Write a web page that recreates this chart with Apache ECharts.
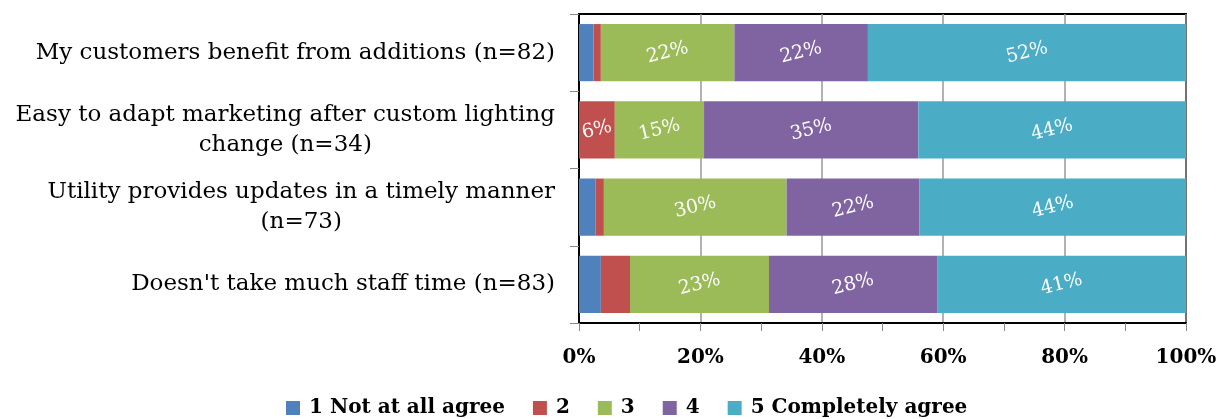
<!DOCTYPE html>
<html>
<head>
<meta charset="utf-8">
<script src="https://cdn.jsdelivr.net/npm/echarts@6/dist/echarts.min.js"></script>
<style>
  html, body { margin: 0; padding: 0; background: #fff; }
  #chart { width: 1222px; height: 419px; }
</style>
</head>
<body>
<div id="chart"></div>
<script>
// Survey statements, listed top to bottom
const categories = [
  'My customers benefit from additions (n=82)',
  'Easy to adapt marketing after custom lighting\nchange (n=34)',
  'Utility provides updates in a timely manner\n(n=73)',
  "Doesn't take much staff time (n=83)"
];

// Share of respondents (%) for each agreement level
const level1 = [2.4, 0.0, 2.7, 3.6];
const level2 = [1.2, 5.9, 1.4, 4.8];
const level3 = [22.0, 14.7, 30.1, 22.9];
const level4 = [22.0, 35.3, 21.9, 27.7];
const level5 = [52.4, 44.1, 43.9, 41.0];

const seriesNames = ['1 Not at all agree', '2', '3', '4', '5 Completely agree'];
const seriesColors = ['#4F81BD', '#C0504D', '#9BBB59', '#8064A2', '#4BACC6'];
const xTicks = [0, 20, 40, 60, 80, 100];

const FONT = 'DejaVu Serif';
const levels = [level1, level2, level3, level4, level5];

const chart = echarts.init(document.getElementById('chart'));

chart.setOption({
  animation: false,
  textStyle: { fontFamily: FONT },
  grid: {
    left: 579, right: 36, top: 14, bottom: 96,
    show: true, borderColor: '#000', borderWidth: 2, backgroundColor: 'transparent'
  },
  legend: {
    top: 393,
    left: 281,
    itemWidth: 14,
    itemHeight: 14,
    itemGap: 28,
    icon: 'rect',
    textStyle: { fontFamily: FONT, fontSize: 20, fontWeight: 'bold', color: '#000', padding: [0, 0, 0, 4] },
    data: seriesNames
  },
  xAxis: {
    type: 'value',
    min: xTicks[0],
    max: xTicks[xTicks.length - 1],
    interval: 20,
    axisLine: { show: true, lineStyle: { color: '#000', width: 2 } },
    axisTick: { show: true, length: 8, lineStyle: { color: '#888', width: 1 } },
    minorTick: { show: true, splitNumber: 2, length: 8, lineStyle: { color: '#888', width: 1 } },
    splitLine: { show: true, lineStyle: { color: '#999', width: 1.5 } },
    axisLabel: {
      margin: 25,
      fontFamily: FONT, fontSize: 20, fontWeight: 'bold', color: '#000',
      formatter: v => v + '%'
    }
  },
  yAxis: {
    type: 'category',
    inverse: true,
    data: categories,
    axisLine: { show: true, lineStyle: { color: '#000', width: 2 } },
    axisTick: { show: true, length: 9, lineStyle: { color: '#888', width: 1 } },
    axisLabel: {
      margin: 24,
      formatter: v => v.split('\n').map(s => '{c|' + s + '}').join('\n'),
      rich: {
        c: { fontFamily: FONT, fontSize: 23, color: '#000', align: 'center', lineHeight: 30 }
      }
    }
  },
  series: levels.map((vals, i) => ({
    name: seriesNames[i],
    type: 'bar',
    stack: 'total',
    barCategoryGap: '26%',
    itemStyle: { color: seriesColors[i] },
    label: {
      show: true,
      position: 'inside',
      rotate: 14,
      color: '#fff',
      fontFamily: FONT,
      fontSize: 19,
      formatter: p => (p.value >= 5 ? Math.round(p.value) + '%' : '')
    },
    data: vals
  }))
});
</script>
</body>
</html>
